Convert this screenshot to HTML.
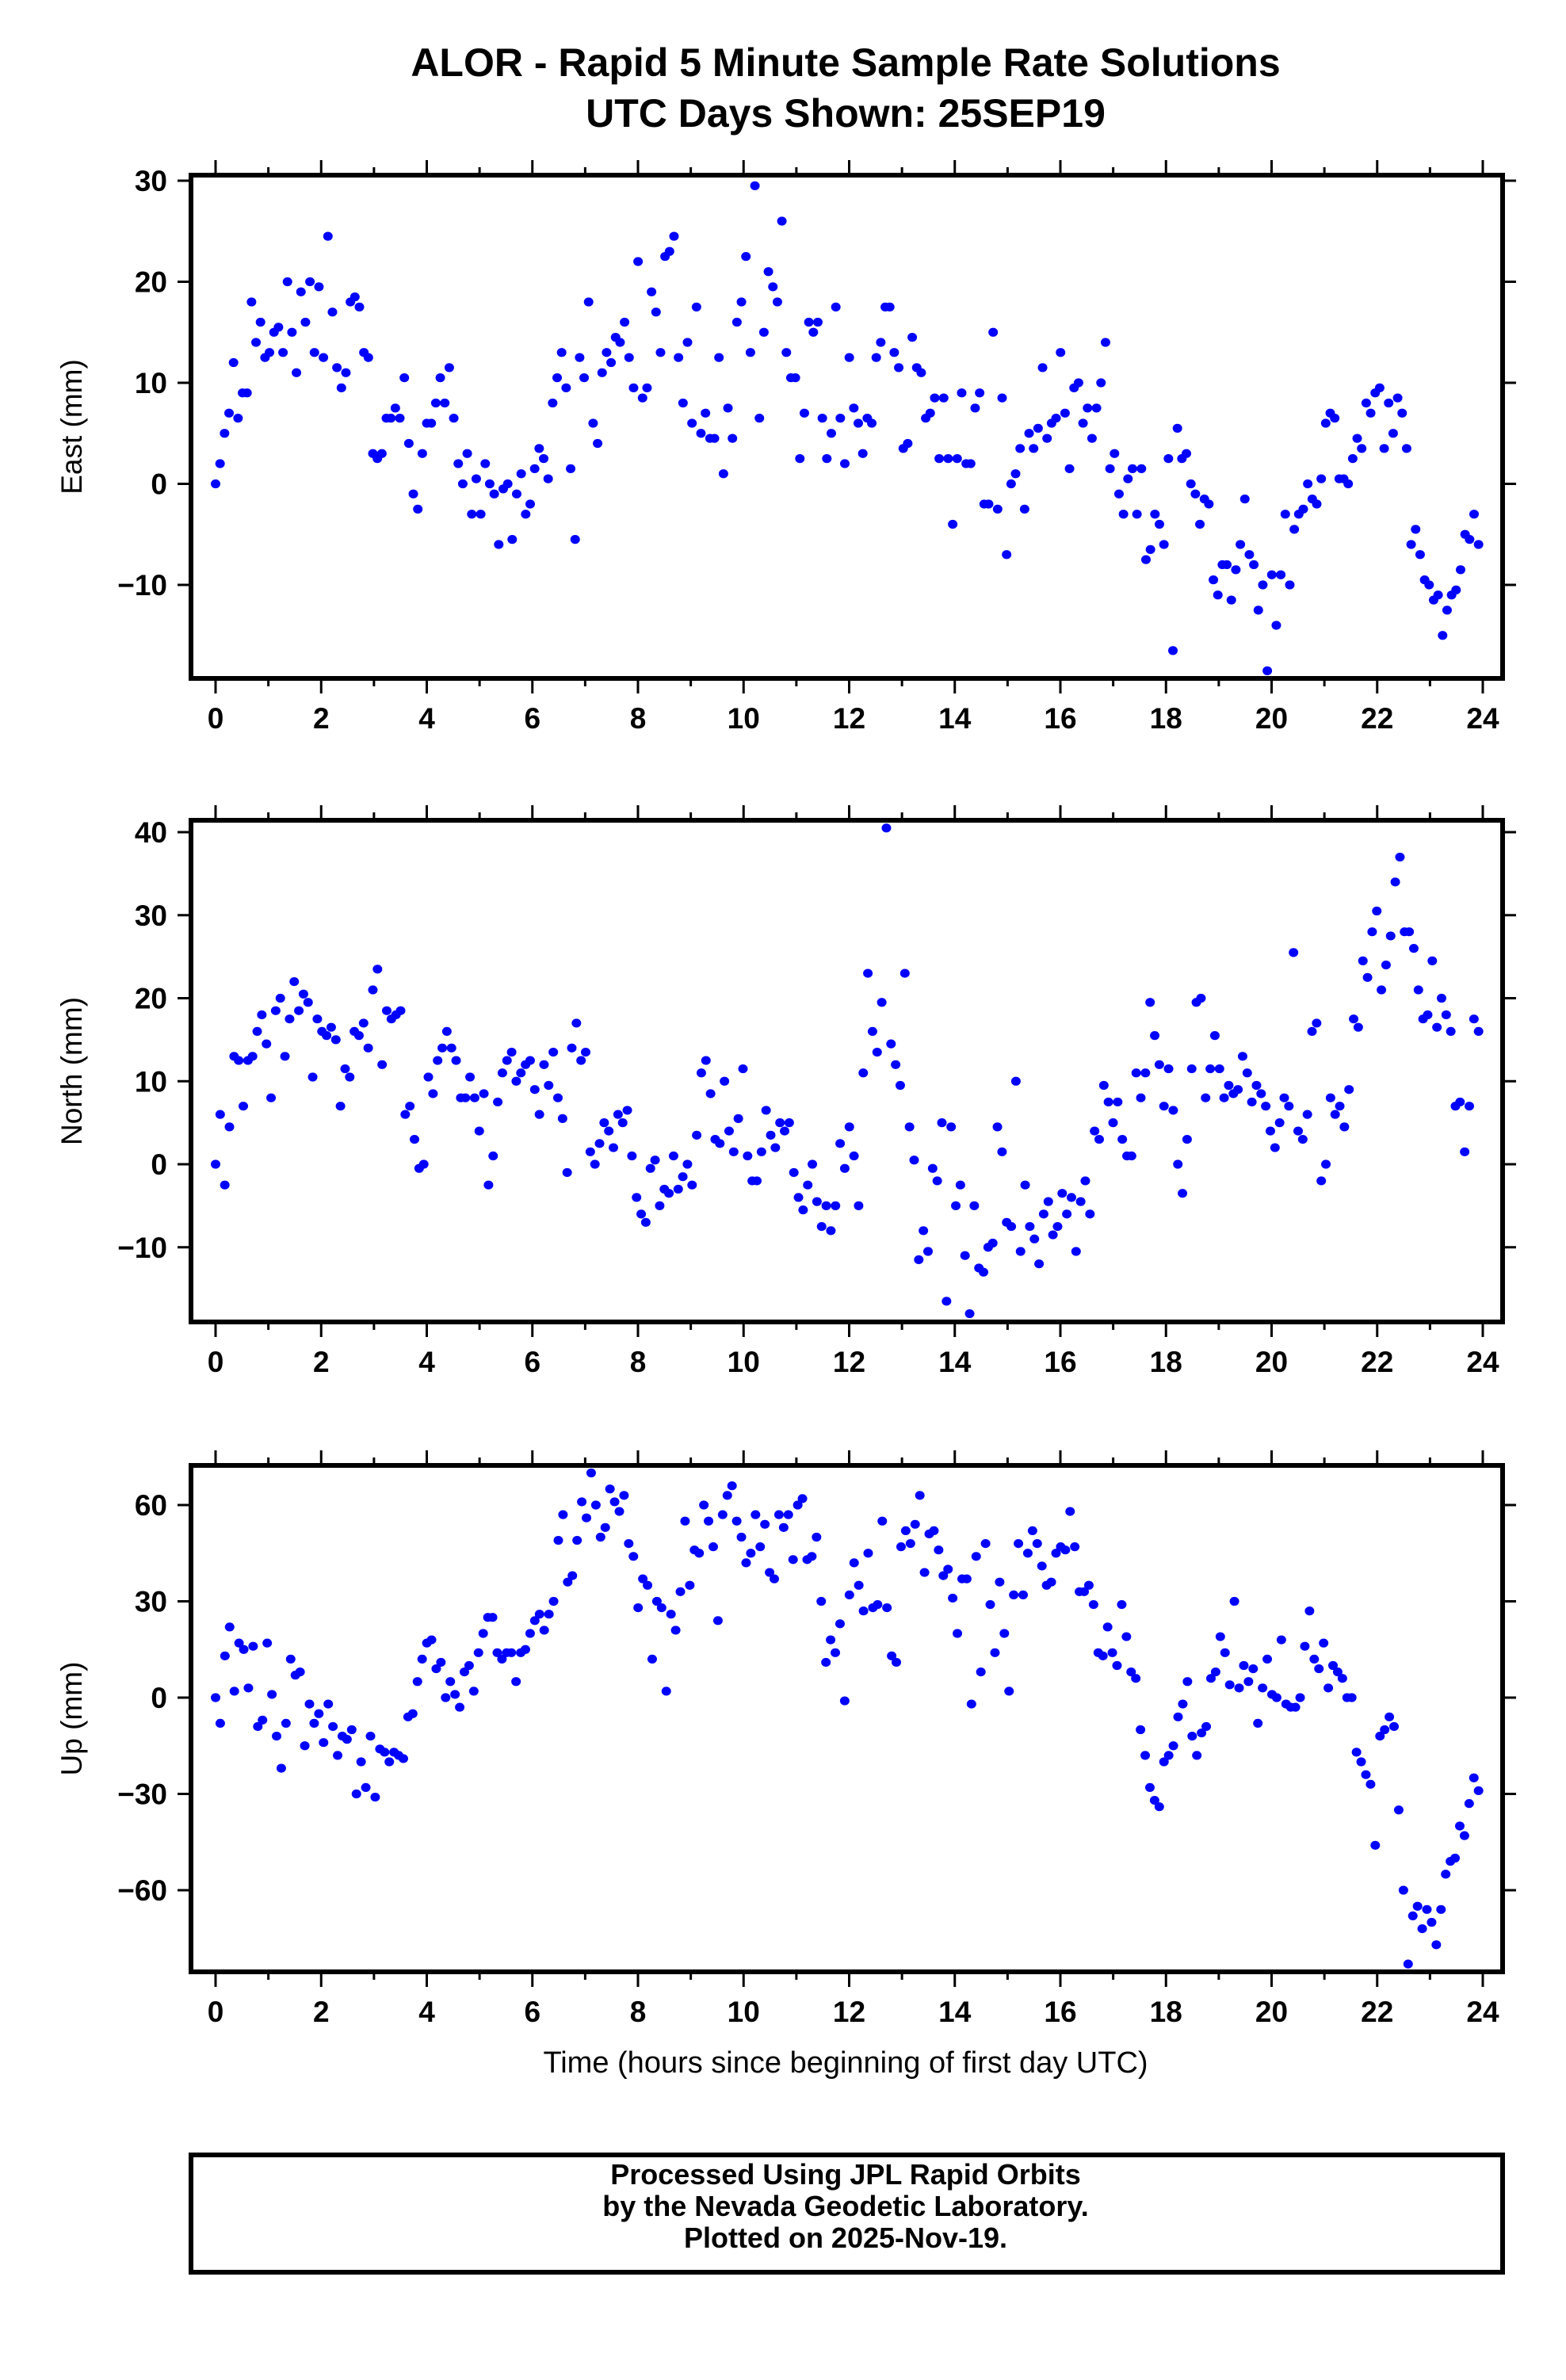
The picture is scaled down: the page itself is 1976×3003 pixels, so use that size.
<!DOCTYPE html>
<html><head><meta charset="utf-8"><style>
html,body{margin:0;padding:0;background:#fff;}
svg{display:block;font-family:"Liberation Sans",Arial,sans-serif;}
</style></head><body>
<svg id="fig" width="1976" height="3003" viewBox="0 0 1976 3003" xmlns="http://www.w3.org/2000/svg">
<text x="1067" y="96" text-anchor="middle" font-size="50" font-weight="bold">ALOR - Rapid 5 Minute Sample Rate Solutions</text>
<text x="1067" y="160" text-anchor="middle" font-size="50" font-weight="bold">UTC Days Shown:  25SEP19</text>
<text x="1067" y="2615" text-anchor="middle" font-size="38">Time (hours since beginning of first day UTC)</text>
<rect x="241" y="2719" width="1655" height="148" fill="none" stroke="#000" stroke-width="6"/>
<text x="1067" y="2756" text-anchor="middle" font-size="36" font-weight="bold">Processed Using JPL Rapid Orbits</text>
<text x="1067" y="2796" text-anchor="middle" font-size="36" font-weight="bold">by the Nevada Geodetic Laboratory.</text>
<text x="1067" y="2836" text-anchor="middle" font-size="36" font-weight="bold">Plotted on 2025-Nov-19.</text>
</svg>
<script>
const eastVals=[0,2,5,7,12,6.5,9,9,18,14,16,12.5,
13,15,15.5,13,20,15,11,19,16,20,13,19.5,
12.5,24.5,17,11.5,9.5,11,18,18.5,17.5,13,12.5,3,
2.5,3,6.5,6.5,7.5,6.5,10.5,4,-1,-2.5,3,6,
6,8,10.5,8,11.5,6.5,2,0,3,-3,0.5,-3,
2,0,-1,-6,-0.5,0,-5.5,-1,1,-3,-2,1.5,
3.5,2.5,0.5,8,10.5,13,9.5,1.5,-5.5,12.5,10.5,18,
6,4,11,13,12,14.5,14,16,12.5,9.5,22,8.5,
9.5,19,17,13,22.5,23,24.5,12.5,8,14,6,17.5,
5,7,4.5,4.5,12.5,1,7.5,4.5,16,18,22.5,13,
29.5,6.5,15,21,19.5,18,26,13,10.5,10.5,2.5,7,
16,15,16,6.5,2.5,5,17.5,6.5,2,12.5,7.5,6,
3,6.5,6,12.5,14,17.5,17.5,13,11.5,3.5,4,14.5,
11.5,11,6.5,7,8.5,2.5,8.5,2.5,-4,2.5,9,2,
2,7.5,9,-2,-2,15,-2.5,8.5,-7,0,1,3.5,
-2.5,5,3.5,5.5,11.5,4.5,6,6.5,13,7,1.5,9.5,
10,6,7.5,4.5,7.5,10,14,1.5,3,-1,-3,0.5,
1.5,-3,1.5,-7.5,-6.5,-3,-4,-6,2.5,-16.5,5.5,2.5,
3,0,-1,-4,-1.5,-2,-9.5,-11,-8,-8,-11.5,-8.5,
-6,-1.5,-7,-8,-12.5,-10,-18.5,-9,-14,-9,-3,-10,
-4.5,-3,-2.5,0,-1.5,-2,0.5,6,7,6.5,0.5,0.5,
0,2.5,4.5,3.5,8,7,9,9.5,3.5,8,5,8.5,
7,3.5,-6,-4.5,-7,-9.5,-10,-11.5,-11,-15,-12.5,-11,
-10.5,-8.5,-5,-5.5,-3,-6];
const northVals=[0,6,-2.5,4.5,13,12.5,7,12.5,13,16,18,14.5,
8,18.5,20,13,17.5,22,18.5,20.5,19.5,10.5,17.5,16,
15.5,16.5,15,7,11.5,10.5,16,15.5,17,14,21,23.5,
12,18.5,17.5,18,18.5,6,7,3,-0.5,0,10.5,8.5,
12.5,14,16,14,12.5,8,8,10.5,8,4,8.5,-2.5,
1,7.5,11,12.5,13.5,10,11,12,12.5,9,6,12,
9.5,13.5,8,5.5,-1,14,17,12.5,13.5,1.5,0,2.5,
5,4,2,6,5,6.5,1,-4,-6,-7,-0.5,0.5,
-5,-3,-3.5,1,-3,-1.5,0,-2.5,3.5,11,12.5,8.5,
3,2.5,10,4,1.5,5.5,11.5,1,-2,-2,1.5,6.5,
3.5,2,5,4,5,-1,-4,-5.5,-2.5,0,-4.5,-7.5,
-5,-8,-5,2.5,-0.5,4.5,1,-5,11,23,16,13.5,
19.5,40.5,14.5,12,9.5,23,4.5,0.5,-11.5,-8,-10.5,-0.5,
-2,5,-16.5,4.5,-5,-2.5,-11,-18,-5,-12.5,-13,-10,
-9.5,4.5,1.5,-7,-7.5,10,-10.5,-2.5,-7.5,-9,-12,-6,
-4.5,-8.5,-7.5,-3.5,-6,-4,-10.5,-4.5,-2,-6,4,3,
9.5,7.5,5,7.5,3,1,1,11,8,11,19.5,15.5,
12,7,11.5,6.5,0,-3.5,3,11.5,19.5,20,8,11.5,
15.5,11.5,8,9.5,8.5,9,13,11,7.5,9.5,8.5,7,
4,2,5,8,7,25.5,4,3,6,16,17,-2,
0,8,6,7,4.5,9,17.5,16.5,24.5,22.5,28,30.5,
21,24,27.5,34,37,28,28,26,21,17.5,18,24.5,
16.5,20,18,16,7,7.5,1.5,7,17.5,16];
const upVals=[0,-8,13,22,2,17,15,3,16,-9,-7,17,
1,-12,-22,-8,12,7,8,-15,-2,-8,-5,-14,
-2,-9,-18,-12,-13,-10,-30,-20,-28,-12,-31,-16,
-17,-20,-17,-18,-19,-6,-5,5,12,17,18,9,
11,0,5,1,-3,8,10,2,14,20,25,25,
14,12,14,14,5,14,15,20,24,26,21,26,
30,49,57,36,38,49,61,56,70,60,50,53,
65,61,58,63,48,44,28,37,35,12,30,28,
2,26,21,33,55,35,46,45,60,55,47,24,
57,63,66,55,50,42,45,57,47,54,39,37,
57,53,57,43,60,62,43,44,50,30,11,18,
14,23,-1,32,42,35,27,45,28,29,55,28,
13,11,47,52,48,54,63,39,51,52,46,38,
40,31,20,37,37,-2,44,8,48,29,14,36,
20,2,32,48,32,45,52,48,41,35,36,45,
47,46,58,47,33,33,35,29,14,13,22,14,
10,29,19,8,6,-10,-18,-28,-32,-34,-20,-18,
-15,-6,-2,5,-12,-18,-11,-9,6,8,19,14,
4,30,3,10,5,9,-8,3,12,1,0,18,
-2,-3,-3,0,16,27,12,9,17,3,10,8,
6,0,0,-17,-20,-24,-27,-46,-12,-10,-6,-9,
-35,-60,-83,-68,-65,-72,-66,-70,-77,-66,-55,-51,
-50,-40,-43,-33,-25,-29];
const xTicks=[0,2,4,6,8,10,12,14,16,18,20,22,24];
const eastTicks=[-10,0,10,20,30];
const northTicks=[-10,0,10,20,30,40];
const upTicks=[-60,-30,0,30,60];
const T_END=23.92;

const NS='http://www.w3.org/2000/svg';
const svg=document.getElementById('fig');
function el(tag,attrs,parent){const e=document.createElementNS(NS,tag);for(const k in attrs)e.setAttribute(k,attrs[k]);(parent||svg).appendChild(e);return e;}
const X0=241,X1=1896;
function xs(h){return 272+h*(1871-272)/24;}

function panel(name,label,vals,ticks,top,bottom,vA,pA,vB,pB){
  const g=el('g',{});
  
  
  const ys=v=>pA+(v-vA)*(pB-pA)/(vB-vA);
  const fr=el('rect',{x:X0,y:top,width:X1-X0,height:bottom-top,fill:'none',stroke:'#000','stroke-width':6},g);
  
  
  for(let h=0;h<=24;h++){
    const major=h%2===0;const L=major?19:10;const x=xs(h);
    el('line',{x1:x,y1:bottom,x2:x,y2:bottom+L,stroke:'#000','stroke-width':3},g);
    el('line',{x1:x,y1:top,x2:x,y2:top-L,stroke:'#000','stroke-width':3},g);
  }
  xTicks.forEach(t=>{
    const tx=el('text',{x:xs(t),y:bottom+63,'text-anchor':'middle','font-size':37,'font-weight':'bold'},g);
    tx.textContent=String(t);
    
    
  });
  ticks.forEach(t=>{
    const y=ys(t);
    el('line',{x1:X0,y1:y,x2:X0-17,y2:y,stroke:'#000','stroke-width':3},g);
    el('line',{x1:X1,y1:y,x2:X1+17,y2:y,stroke:'#000','stroke-width':3},g);
    const tx=el('text',{x:X0-30,y:y+13,'text-anchor':'end','font-size':37,'font-weight':'bold'},g);
    tx.textContent=(t<0?'\u2212':'')+Math.abs(t);
    
    
  });
  const yl=el('text',{x:0,y:0,'text-anchor':'middle','font-size':37,transform:`translate(103,${(top+bottom)/2}) rotate(-90)`},g);
  yl.textContent=label;
  
  
  const n=vals.length;
  vals.forEach((v,i)=>{
    const c=el('ellipse',{cx:xs(i*T_END/(n-1)),cy:ys(v),rx:6,ry:5.6,fill:'#0000ff'},g);
    
    
  });
}
panel('east','East (mm)',eastVals,eastTicks,221,856,30,228,-10,738);
panel('north','North (mm)',northVals,northTicks,1035,1668,40,1050,0,1469);
panel('up','Up (mm)',upVals,upTicks,1849,2488,60,1899,-60,2385);
</script>
</body></html>
